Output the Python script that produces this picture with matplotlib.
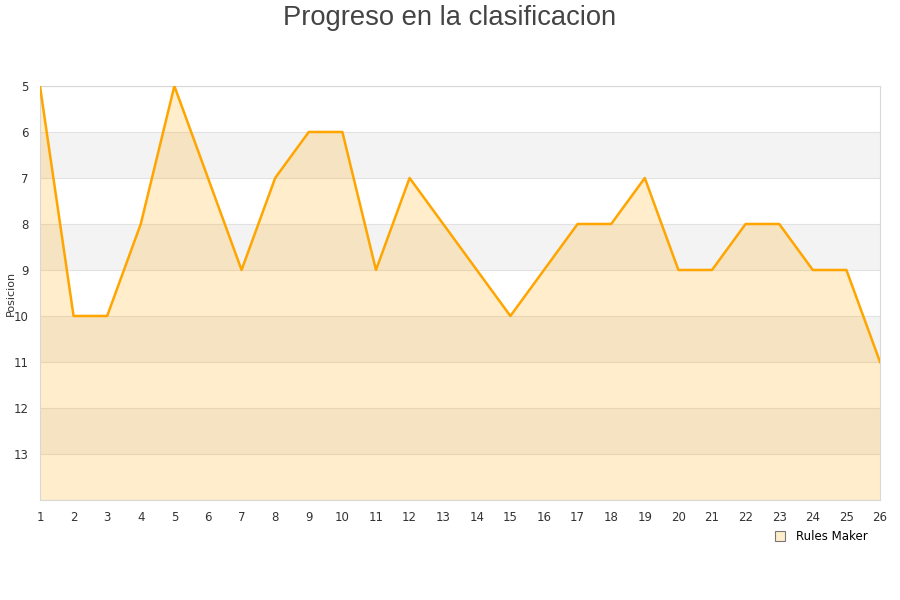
import matplotlib
matplotlib.use("Agg")
import matplotlib.pyplot as plt
from matplotlib.lines import Line2D

jornadas = list(range(1, 27))
posicion = [5, 10, 10, 8, 5, 7, 9, 7, 6, 6, 9, 7, 8, 9, 10, 9, 8, 8, 7, 9, 9, 8, 8, 9, 9, 11]
equipo = "Rules Maker"
y_ticks = list(range(5, 14))

fig = plt.figure(figsize=(9, 6), dpi=100)
ax = fig.add_axes([0.0444, 0.1667, 0.9334, 0.69])

# alternating bands
for y in range(6, 14, 2):
    ax.axhspan(y, y + 1, color="#f3f3f3", zorder=0, lw=0)
for y in range(5, 15):
    ax.axhline(y, color="#e2e2e2", lw=0.8, zorder=1)

ax.fill_between(jornadas, posicion, 14, color="#ffa500", alpha=0.2, lw=0, zorder=2)
ax.plot(jornadas, posicion, color="#ffa500", lw=1.8, zorder=3)

ax.set_xlim(1, 26)
ax.set_ylim(14, 5)
ax.set_xticks(jornadas)
ax.set_yticks(y_ticks)
ax.tick_params(length=0, labelsize=8.5, colors="#333333", pad=8)
ax.set_ylabel("Posicion", fontsize=8, color="#333333")
ax.yaxis.set_label_coords(-0.029, 0.5)
for s in ax.spines.values():
    s.set_color("#d8d8d8")

fig.suptitle("Progreso en la clasificacion", fontsize=19.7, color="#444444", y=0.992,
             family="Liberation Sans")

handle = Line2D([], [], marker="s", ls="none", markersize=7,
                markerfacecolor="#ffeecc", markeredgecolor="#777777", markeredgewidth=0.8)
fig.legend([handle], [equipo], loc="center", bbox_to_anchor=(0.909, 0.105),
           frameon=False, fontsize=8.5, handletextpad=0.3)

fig.savefig("out.png", dpi=100)
